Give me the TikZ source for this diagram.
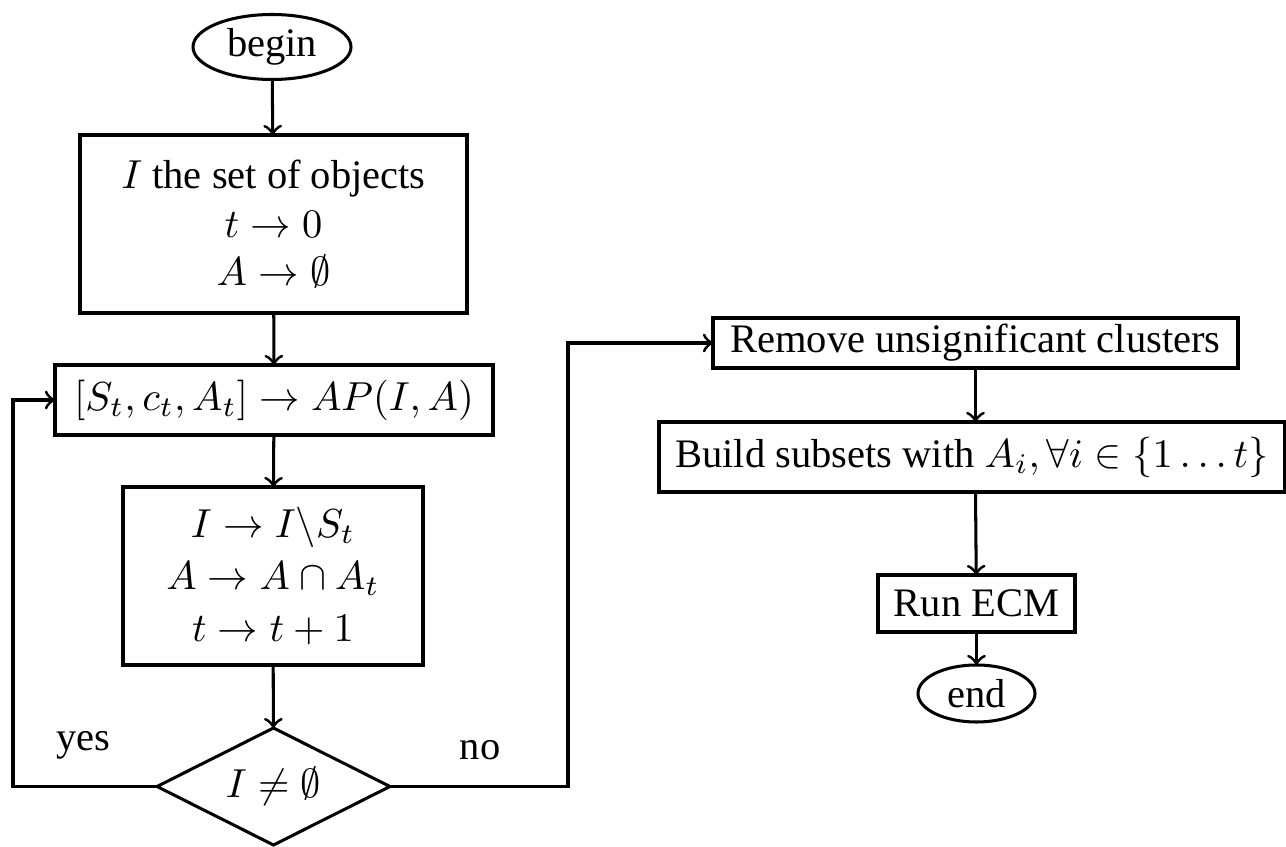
\documentclass[tikz,border=0pt]{standalone}
\usepackage[no-math]{fontspec}
\setmainfont{Liberation Serif}
\usetikzlibrary{shapes.geometric}
\def\pxu{0.247pt}
\begin{document}
\begin{tikzpicture}[x=0.247pt,y=-0.247pt,
  every node/.style={inner sep=0pt,outer sep=0pt},
  box/.style={draw,line width=0.75pt,align=center},
  term/.style={draw,ellipse,line width=0.75pt},
  decide/.style={draw,diamond,line width=0.75pt,aspect=2},
  conn/.style={->,line width=0.75pt},
  lab/.style={}]
\useasboundingbox (0,0) rectangle (1286,847);
\node[term,minimum width={158*\pxu},minimum height={65*\pxu}] (begin) at (272,47) {begin};
\node[box,minimum width={387*\pxu},minimum height={178*\pxu}] (init) at (273.5,224) {$I$ the set of objects\\ $t\rightarrow 0$\\ $A\rightarrow\emptyset$};
\node[box,minimum width={438*\pxu},minimum height={70*\pxu}] (ap) at (274,400) {$[S_t,c_t,A_t]\rightarrow AP(I,A)$};
\node[box,minimum width={300*\pxu},minimum height={178*\pxu}] (upd) at (273,576) {$I\rightarrow I\backslash S_t$\\[0.9pt] $A\rightarrow A\cap A_t$\\[0.9pt] $t\rightarrow t+1$};
\node[decide,minimum width={233*\pxu},minimum height={117*\pxu}] (test) at (273.5,786.5) {$I\neq\emptyset$};
\node[box,minimum width={525*\pxu},minimum height={50*\pxu}] (rem) at (975.5,343) {Remove unsignificant clusters};
\node[box,minimum width={626*\pxu},minimum height={70*\pxu}] (build) at (972,457) {Build subsets with $A_i,\forall i\in\{1\ldots t\}$};
\node[box,minimum width={197*\pxu},minimum height={57*\pxu}] (ecm) at (976.5,603.5) {Run ECM};
\node[term,minimum width={117*\pxu},minimum height={57*\pxu}] (end) at (976.5,693.5) {end};
\node[lab] (yes) at (83,745) {yes};
\node[lab] (no) at (480,750) {no};
\coordinate (yl) at (13,786.5);
\coordinate (nl) at (568,786.5);
\draw[conn] (begin) -- (init);
\draw[conn] (init) -- (ap);
\draw[conn] (ap) -- (upd);
\draw[conn] (upd) -- (test);
\draw[conn] (test.west) -- (yl) |- (ap.west);
\draw[conn] (test.east) -- (nl) |- (rem.west);
\draw[conn] (rem) -- (build.north -| rem);
\draw[conn] (build.south -| rem) -- (ecm);
\draw[conn] (ecm) -- (end);
\end{tikzpicture}
\end{document}
